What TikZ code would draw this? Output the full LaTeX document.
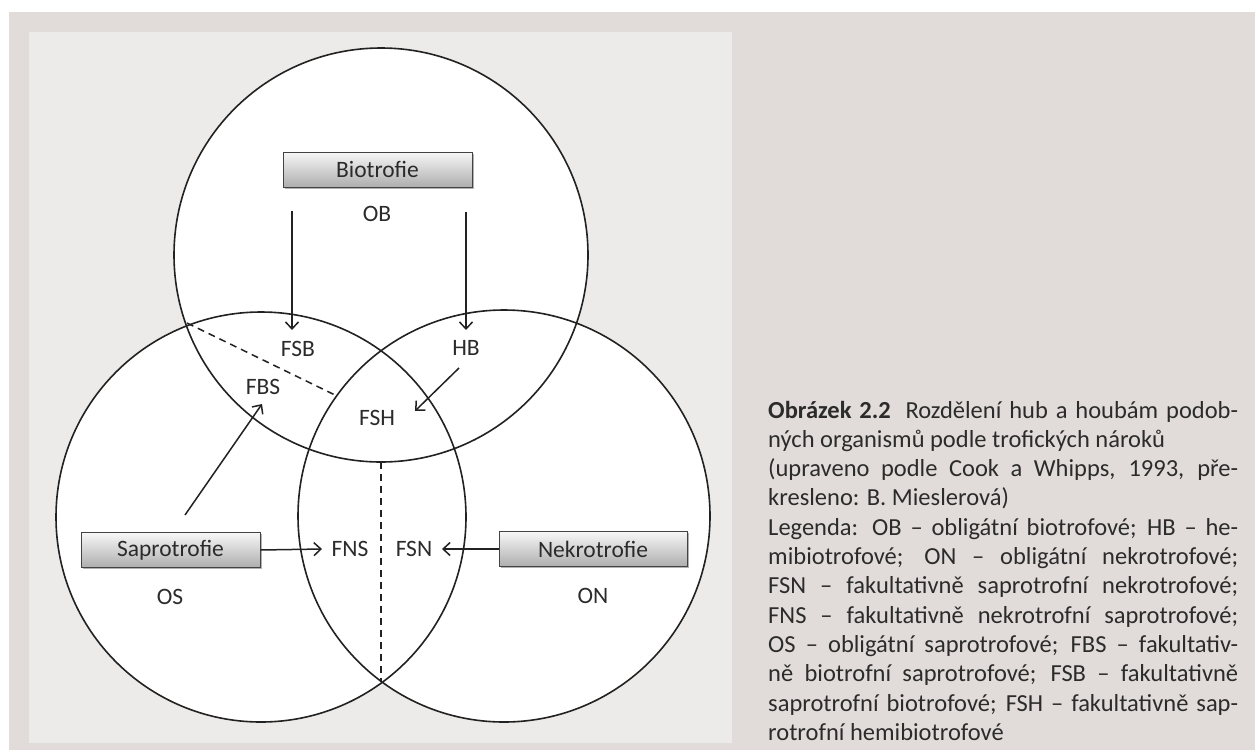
\documentclass[tikz,border=0pt]{standalone}
\usepackage{fontspec}
\setmainfont{Carlito}
\usetikzlibrary{arrows.meta,shadows}
\definecolor{beige}{HTML}{E1DCD9}
\definecolor{panel}{HTML}{EDEBE9}
\definecolor{ink}{HTML}{222222}
\definecolor{txt}{HTML}{2B2B2B}
\begin{document}
\begin{tikzpicture}[x=1pt,y=-1pt,
  ring/.style={draw=ink,line width=1.6pt},
  lab/.style={text=txt,font=\fontsize{23.5}{28}\selectfont,inner sep=0pt},
  tbox/.style={draw=ink!85,line width=1pt,top color=white!97!black,bottom color=black!32,
    minimum height=35pt,inner sep=0pt,text=txt,font=\fontsize{23.5}{28}\selectfont,
    drop shadow={shadow xshift=1.5pt,shadow yshift=-1.5pt,opacity=0.3,fill=black}},
  arr/.style={draw=ink,line width=1.5pt,-{Straight Barb[length=7pt,width=13pt,line width=1.5pt]}},
  dashln/.style={draw=ink,line width=1.5pt,dash pattern=on 7pt off 5pt},
  captxt/.style={anchor=base west,inner sep=0pt,text=txt,font=\fontsize{24.5}{29.5}\selectfont}
]
\useasboundingbox (0,0) rectangle (1255,750);
\fill[white] (0,0) rectangle (1255,750);
\fill[beige] (9,12) rectangle (1255,750);
\fill[panel] (29,32) rectangle (732,743);
% circles
\coordinate (cT) at (381,255);
\coordinate (cL) at (261,517);
\coordinate (cR) at (504,516);
\fill[white] (cT) circle (207pt);
\fill[white] (cL) circle (205pt);
\fill[white] (cR) circle (206pt);
\draw[ring] (cT) circle (207pt);
\draw[ring] (cL) circle (205pt);
\draw[ring] (cR) circle (206pt);
% dashed lines
\coordinate (d1a) at (187,323);
\coordinate (d1b) at (335,395);
\draw[dashln] (d1a) -- (d1b);
\coordinate (d2a) at (381,462);
\coordinate (d2b) at (381,682);
\draw[dashln] (d2a) -- (d2b);
% boxes
\node[tbox,minimum width=189pt] (bio) at (377.5,169.5) {Biotrofie};
\node[tbox,minimum width=179pt] (sap) at (170.5,550) {Saprotrofie};
\node[tbox,minimum width=188pt] (nek) at (593,549) {Nekrotrofie};
% labels
\node[lab] (OB) at (377,214) {OB};
\node[lab] (FSB) at (298,349) {FSB};
\node[lab] (HB) at (466,348) {HB};
\node[lab] (FBS) at (263,387) {FBS};
\node[lab] (FSH) at (377,418) {FSH};
\node[lab] (FNS) at (350,549) {FNS};
\node[lab] (FSN) at (414,549) {FSN};
\node[lab] (OS) at (170,597) {OS};
\node[lab] (ON) at (593,596) {ON};
% arrows
\coordinate (a1s) at (292,211); \coordinate (a1e) at (292,330);
\draw[arr] (a1s) -- (a1e);
\coordinate (a2s) at (466,212); \coordinate (a2e) at (466,330);
\draw[arr] (a2s) -- (a2e);
\coordinate (a3s) at (459,368); \coordinate (a3e) at (415,411);
\draw[arr] (a3s) -- (a3e);
\coordinate (a4s) at (185,515); \coordinate (a4e) at (262,404);
\draw[arr] (a4s) -- (a4e);
\coordinate (a5e) at (322,549);
\draw[arr] (sap.east) -- (a5e);
\coordinate (a6e) at (442,549);
\draw[arr] (nek.west) -- (a6e);
% caption
\node[captxt] (c0) at (768,418.0) {\makebox[470pt][s]{\textbf{Obrázek 2.2}\hspace{0.6em}Rozdělení hub a houbám podob-}};
\node[captxt] (c1) at (768,447.3) {\makebox[470pt][l]{ných organismů podle trofických nároků}};
\node[captxt] (c2) at (768,476.6) {\makebox[470pt][s]{(upraveno podle Cook a Whipps, 1993, pře-}};
\node[captxt] (c3) at (768,505.9) {\makebox[470pt][l]{kresleno: B. Mieslerová)}};
\node[captxt] (c4) at (768,535.2) {\makebox[470pt][s]{Legenda: OB – obligátní biotrofové; HB – he-}};
\node[captxt] (c5) at (768,564.5) {\makebox[470pt][s]{mibiotrofové; ON – obligátní nekrotrofové;}};
\node[captxt] (c6) at (768,593.8) {\makebox[470pt][s]{FSN – fakultativně saprotrofní nekrotrofové;}};
\node[captxt] (c7) at (768,623.1) {\makebox[470pt][s]{FNS – fakultativně nekrotrofní saprotrofové;}};
\node[captxt] (c8) at (768,652.4) {\makebox[470pt][s]{OS – obligátní saprotrofové; FBS – fakultativ-}};
\node[captxt] (c9) at (768,681.7) {\makebox[470pt][s]{ně biotrofní saprotrofové; FSB – fakultativně}};
\node[captxt] (c10) at (768,711.0) {\makebox[470pt][s]{saprotrofní biotrofové; FSH – fakultativně sap-}};
\node[captxt] (c11) at (768,740.3) {\makebox[470pt][l]{rotrofní hemibiotrofové}};
\end{tikzpicture}
\end{document}
